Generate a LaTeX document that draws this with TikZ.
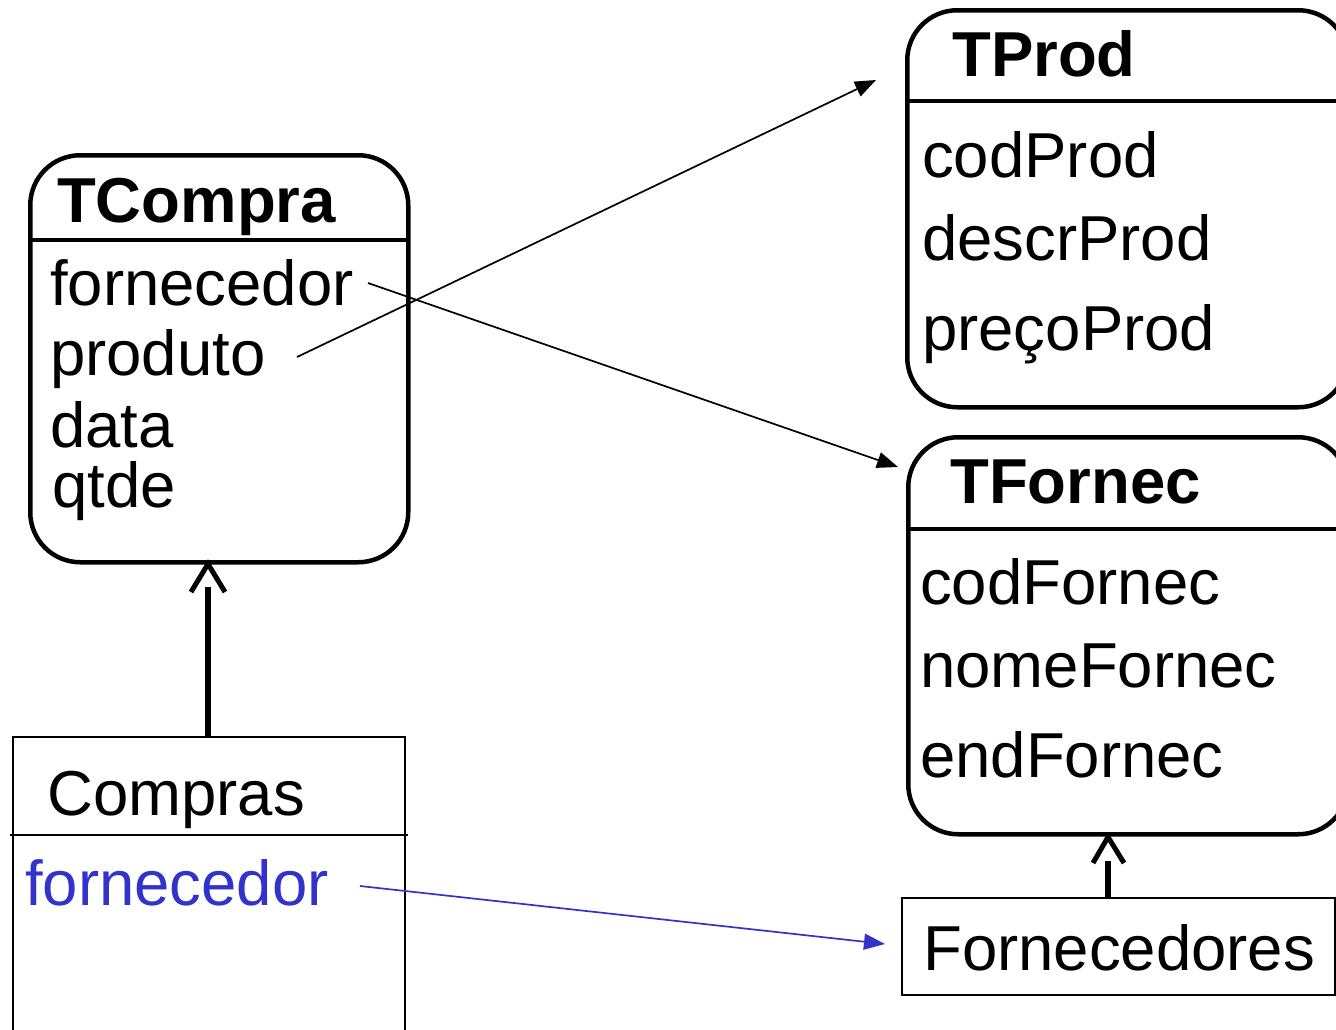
\documentclass[tikz,border=0pt]{standalone}
\usepackage{fontspec}
\setmainfont{Liberation Sans}
\usetikzlibrary{arrows.meta}
\definecolor{fblue}{RGB}{51,51,204}
\begin{document}
\begin{tikzpicture}[x=1pt,y=-1pt,
  rbox/.style={draw, line width=4.5pt, rounded corners=50pt, anchor=north west, inner sep=0pt},
  sbox/.style={draw, line width=2pt, anchor=north west, inner sep=0pt},
  txt/.style={anchor=base west, inner sep=0pt, font=\fontsize{63.5}{75}\selectfont},
  ttl/.style={anchor=base west, inner sep=0pt, font=\fontsize{63.5}{75}\selectfont\bfseries},
  link/.style={line width=1.7pt, -{Triangle[length=21pt,width=16pt]}},
  inh/.style={line width=6pt},
  head/.style={line width=5pt}]
\useasboundingbox (0,0) rectangle (1336,1029);
\clip (0,0) rectangle (1336,1029);

% TCompra
\node[rbox, minimum width=378pt, minimum height=407pt] (tcompra) at (28,153) {};
\draw[line width=4.5pt] (28,240) -- (406,240);
\node[ttl] (tcompraT) at (57,222) {TCompra};
\node[txt] (cfor) at (50,305) {fornecedor};
\node[txt] (cprod) at (50,375) {produto};
\node[txt] (cdata) at (50,447) {data};
\node[txt] (cqtde) at (52,507) {qtde};

% TProd
\node[rbox, minimum width=441pt, minimum height=397pt] (tprod) at (905,8) {};
\draw[line width=4.5pt] (905,101) -- (1336,101);
\node[ttl] (tprodT) at (952,76) {TProd};
\node[txt] (pcod) at (922,177) {codProd};
\node[txt] (pdesc) at (922,260) {descrProd};
\node[txt] (ppreco) at (922,350) {preçoProd};

% TFornec
\node[rbox, minimum width=440pt, minimum height=397pt] (tfornec) at (906,435) {};
\draw[line width=4.5pt] (906,529) -- (1336,529);
\node[ttl] (tfornecT) at (950,503) {TFornec};
\node[txt] (fcod) at (920,604) {codFornec};
\node[txt] (fnome) at (920,687) {nomeFornec};
\node[txt] (fend) at (920,777) {endFornec};

% Compras
\draw[line width=2pt] (13,1040) -- (13,737) -- (405,737) -- (405,1040);
\draw[line width=2pt] (10,835) -- (408,835);
\coordinate (comprastop) at (208,737);
\node[txt] (compras) at (47,815) {Compras};
\node[txt, text=fblue] (cfor2) at (25,905) {fornecedor};

% Fornecedores
\node[sbox, minimum width=433pt, minimum height=97pt] (forn) at (901,897) {};
\node[txt] (fornT) at (923,970) {Fornecedores};
\coordinate (forntop) at (1108,897);

% links
\coordinate (prodtail) at (297,357);
\coordinate (prodtip) at (876,80);
\coordinate (fortail) at (368,283);
\coordinate (fortip) at (898,467);
\coordinate (bluetail) at (360,886);
\coordinate (bluetip) at (885,944);
\draw[link] (prodtail) -- (prodtip);
\draw[link] (fortail) -- (fortip);
\draw[link, draw=fblue, fill=fblue] (bluetail) -- (bluetip);

% inheritance arrows
\draw[inh] (comprastop) -- (208,587);
\draw[head] (191,592) -- (208,564) -- (225,592);
\draw[inh] (forntop) -- (1108,861);
\draw[head] (1093,863) -- (1108,837) -- (1124,863);
\end{tikzpicture}
\end{document}
